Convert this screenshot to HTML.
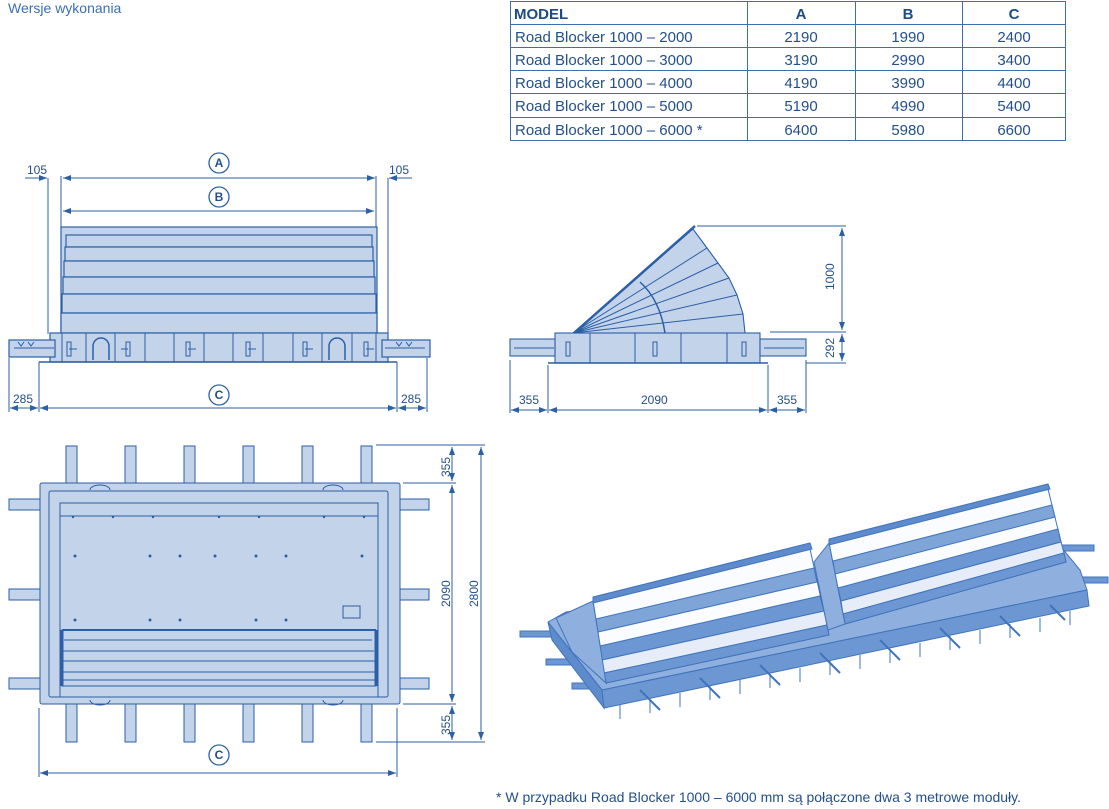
<!DOCTYPE html>
<html><head><meta charset="utf-8"><style>
body{margin:0;background:#fff;width:1109px;height:809px;overflow:hidden;font-family:"Liberation Sans",sans-serif}
svg{position:absolute;left:0;top:0}
text{font-family:"Liberation Sans",sans-serif;fill:#234f8c}
</style></head><body>
<svg width="1109" height="809" viewBox="0 0 1109 809" xmlns="http://www.w3.org/2000/svg">
<defs>
<marker id="ar" markerWidth="8" markerHeight="6" refX="8" refY="3" orient="auto-start-reverse" markerUnits="userSpaceOnUse"><path d="M0,0 L8,3 L0,6 z" fill="#2b5fa6"/></marker>
</defs>
<text x="8" y="13" font-size="14" style="fill:#3a6fb5">Wersje wykonania</text>

<!-- TABLE -->
<g stroke="#3d6fb0" stroke-width="1" fill="none">
<rect x="510.5" y="1.5" width="555" height="139"/>
<line x1="510" y1="24.5" x2="1066" y2="24.5"/><line x1="510" y1="47.5" x2="1066" y2="47.5"/>
<line x1="510" y1="70.5" x2="1066" y2="70.5"/><line x1="510" y1="93.5" x2="1066" y2="93.5"/>
<line x1="510" y1="117.5" x2="1066" y2="117.5"/>
<line x1="747.5" y1="1" x2="747.5" y2="141"/><line x1="855.5" y1="1" x2="855.5" y2="141"/><line x1="962.5" y1="1" x2="962.5" y2="141"/>
</g>
<g font-size="15">
<text x="514" y="19" font-weight="bold" style="fill:#1d4a8a">MODEL</text>
<text x="801" y="19" font-weight="bold" text-anchor="middle" style="fill:#1d4a8a">A</text>
<text x="908" y="19" font-weight="bold" text-anchor="middle" style="fill:#1d4a8a">B</text>
<text x="1014" y="19" font-weight="bold" text-anchor="middle" style="fill:#1d4a8a">C</text>
<text x="515" y="42">Road Blocker 1000 – 2000</text><text x="801" y="42" text-anchor="middle">2190</text><text x="908" y="42" text-anchor="middle">1990</text><text x="1014" y="42" text-anchor="middle">2400</text>
<text x="515" y="65">Road Blocker 1000 – 3000</text><text x="801" y="65" text-anchor="middle">3190</text><text x="908" y="65" text-anchor="middle">2990</text><text x="1014" y="65" text-anchor="middle">3400</text>
<text x="515" y="88">Road Blocker 1000 – 4000</text><text x="801" y="88" text-anchor="middle">4190</text><text x="908" y="88" text-anchor="middle">3990</text><text x="1014" y="88" text-anchor="middle">4400</text>
<text x="515" y="111">Road Blocker 1000 – 5000</text><text x="801" y="111" text-anchor="middle">5190</text><text x="908" y="111" text-anchor="middle">4990</text><text x="1014" y="111" text-anchor="middle">5400</text>
<text x="515" y="135">Road Blocker 1000 – 6000 *</text><text x="801" y="135" text-anchor="middle">6400</text><text x="908" y="135" text-anchor="middle">5980</text><text x="1014" y="135" text-anchor="middle">6600</text>
</g>

<!-- FRONT VIEW -->
<g stroke="#2b5fa6" stroke-width="1" fill="none">
<line x1="48" y1="178" x2="48" y2="334"/><line x1="61" y1="176" x2="61" y2="228"/>
<line x1="376" y1="176" x2="376" y2="228"/><line x1="388" y1="178" x2="388" y2="334"/>
<line x1="63" y1="178" x2="375" y2="178" marker-start="url(#ar)" marker-end="url(#ar)"/>
<line x1="25" y1="178" x2="47" y2="178" marker-end="url(#ar)"/>
<line x1="412" y1="178" x2="389" y2="178" marker-end="url(#ar)"/>
<line x1="63" y1="211" x2="374" y2="211" marker-start="url(#ar)" marker-end="url(#ar)"/>
<circle cx="219" cy="163" r="10" stroke-width="1.3"/><circle cx="219" cy="197" r="10" stroke-width="1.3"/><circle cx="219" cy="395" r="10" stroke-width="1.3"/>
<line x1="9" y1="358" x2="9" y2="412"/><line x1="39" y1="362" x2="39" y2="412"/>
<line x1="397" y1="362" x2="397" y2="412"/><line x1="427" y1="358" x2="427" y2="412"/>
<line x1="10" y1="408" x2="38" y2="408" marker-start="url(#ar)" marker-end="url(#ar)"/>
<line x1="40" y1="408" x2="396" y2="408" marker-start="url(#ar)" marker-end="url(#ar)"/>
<line x1="398" y1="408" x2="426" y2="408" marker-start="url(#ar)" marker-end="url(#ar)"/>
</g>
<g font-size="12"><text x="27" y="174">105</text><text x="389" y="174">105</text>
<text x="13" y="403">285</text><text x="401" y="403">285</text></g>
<g font-size="12" font-weight="bold" text-anchor="middle"><text x="219" y="167">A</text><text x="219" y="201">B</text><text x="219" y="399">C</text></g>
<g stroke="#2b5fa6" fill="#c3d3ea" stroke-width="1.2">
<rect x="61" y="227" width="316" height="106"/>
<rect x="66" y="235" width="306" height="12"/><rect x="65" y="247" width="308" height="14"/>
<rect x="64" y="261" width="310" height="16"/><rect x="63" y="277" width="312" height="17"/>
<rect x="62" y="294" width="314" height="19"/><rect x="61" y="313" width="316" height="20"/>
<rect x="50" y="333" width="338" height="29"/>
<rect x="9" y="340" width="46" height="17"/><rect x="382" y="340" width="48" height="17"/>
<line x1="39" y1="362" x2="397" y2="362" stroke-width="1.5"/>
</g>
<g stroke="#2b5fa6" stroke-width="1" fill="none">
<path d="M62 333V362M86 333V362M115 333V362M145 333V362M174 333V362M204 333V362M233 333V362M263 333V362M293 333V362M322 333V362M352 333V362M376 333V362"/>
<path d="M93 360V346a8 8 0 0 1 16 0V360M329 360V346a8 8 0 0 1 16 0V360" stroke-width="1.5"/>
<path d="M67 342h4v14h-4zM126 342h4v14h-4zM186 342h4v14h-4zM246 342h4v14h-4zM303 342h4v14h-4zM364 342h4v14h-4z"/>
<path d="M69 349h8M128 349h-7M188 349h8M248 349h8M305 349h8M366 349h8"/>
<path d="M14 348h40M385 348h40M18 342l3 4 3-4M28 342l3 4 3-4M396 342l3 4 3-4M406 342l3 4 3-4"/>
</g>

<!-- SIDE VIEW -->
<g stroke="#2b5fa6" stroke-width="1.1" fill="#c3d3ea">
<path d="M573 333 L693 229 L707 248 L718 263 L729 278 L737 295 L743 314 L745 333 Z"/>
<rect x="555" y="333" width="205" height="30"/>
<rect x="510" y="339" width="45" height="17"/><rect x="760" y="339" width="46" height="17"/>
</g>
<g stroke="#2b5fa6" stroke-width="1" fill="none">
<path d="M573 333L707 248M573 333L718 263M573 333L729 278M573 333L737 295M573 333L743 314"/>
<path d="M574 333L695 226" stroke-width="2.5"/>
<path d="M665 333 Q660 300 640 282" stroke-width="1.5"/>
<path d="M590 333V363M635 333V363M681 333V363M727 333V363"/>
<path d="M548 363H768" stroke-width="1.5"/>
<path d="M566 342h4v14h-4zM653 342h4v14h-4zM742 342h4v14h-4z"/>
<path d="M514 348h40M764 348h40"/>
<line x1="697" y1="226" x2="846" y2="226"/><line x1="770" y1="332" x2="846" y2="332"/><line x1="806" y1="363" x2="846" y2="363"/>
<line x1="842" y1="228" x2="842" y2="330" marker-start="url(#ar)" marker-end="url(#ar)"/>
<line x1="842" y1="334" x2="842" y2="361" marker-start="url(#ar)" marker-end="url(#ar)"/>
<path d="M510 360V413M548 365V413M768 365V413M806 360V413"/>
<line x1="511" y1="410" x2="547" y2="410" marker-start="url(#ar)" marker-end="url(#ar)"/>
<line x1="549" y1="410" x2="767" y2="410" marker-start="url(#ar)" marker-end="url(#ar)"/>
<line x1="769" y1="410" x2="805" y2="410" marker-start="url(#ar)" marker-end="url(#ar)"/>
</g>
<g font-size="12"><text x="519" y="404">355</text><text x="641" y="404">2090</text><text x="777" y="404">355</text>
<text transform="translate(834,290) rotate(-90)">1000</text><text transform="translate(834,358) rotate(-90)">292</text></g>

<!-- TOP VIEW -->
<g stroke="#2b5fa6" stroke-width="1" fill="#c3d3ea">
<path d="M66 446h11v37h-11zM125 446h11v37h-11zM184 446h11v37h-11zM243 446h11v37h-11zM302 446h11v37h-11zM361 446h11v37h-11z"/>
<path d="M66 704h11v38h-11zM125 704h11v38h-11zM184 704h11v38h-11zM243 704h11v38h-11zM302 704h11v38h-11zM361 704h11v38h-11z"/>
<path d="M9 499h38v11h-38zM9 589h38v11h-38zM9 678h38v11h-38zM391 499h38v11h-38zM391 589h38v11h-38zM391 678h38v11h-38z"/>
<rect x="40" y="483" width="360" height="221" rx="2"/>
<rect x="49" y="491" width="339" height="206" rx="2"/>
<rect x="60" y="503" width="318" height="194"/>
<rect x="60" y="503" width="318" height="13"/>
<rect x="62" y="630" width="314" height="56"/>
</g>
<g stroke="#2b5fa6" fill="none" stroke-width="1">
<path d="M62 630H376" stroke-width="2"/><path d="M64 640H372M63 651H374M63 661H375M62 672H376M62 680H376" />
<path d="M62 630V686M376 630V686" stroke-width="3"/>
<rect x="343" y="606" width="17" height="12"/>
<path d="M90 490a10 5 0 0 1 20 0M323 490a10 5 0 0 1 20 0M90 700a10 5 0 0 0 20 0M323 700a10 5 0 0 0 20 0"/>
<line x1="376" y1="445" x2="485" y2="445"/><line x1="403" y1="483" x2="456" y2="483"/>
<line x1="403" y1="704" x2="456" y2="704"/><line x1="376" y1="742" x2="485" y2="742"/>
<line x1="452" y1="447" x2="452" y2="481" marker-start="url(#ar)" marker-end="url(#ar)"/>
<line x1="452" y1="485" x2="452" y2="702" marker-start="url(#ar)" marker-end="url(#ar)"/>
<line x1="452" y1="706" x2="452" y2="740" marker-start="url(#ar)" marker-end="url(#ar)"/>
<line x1="481" y1="447" x2="481" y2="740" marker-start="url(#ar)" marker-end="url(#ar)"/>
<path d="M39 708V777M397 708V777"/>
<line x1="40" y1="773" x2="396" y2="773" marker-start="url(#ar)" marker-end="url(#ar)"/>
<circle cx="219" cy="755" r="10" stroke-width="1.3"/>
</g>
<g fill="#2b5fa6">
<circle cx="75" cy="556" r="1.5"/><circle cx="150" cy="556" r="1.5"/><circle cx="180" cy="556" r="1.5"/><circle cx="215" cy="556" r="1.5"/><circle cx="256" cy="556" r="1.5"/><circle cx="286" cy="556" r="1.5"/><circle cx="362" cy="556" r="1.5"/>
<circle cx="75" cy="620" r="1.5"/><circle cx="150" cy="620" r="1.5"/><circle cx="180" cy="620" r="1.5"/><circle cx="256" cy="620" r="1.5"/><circle cx="286" cy="620" r="1.5"/>
<circle cx="73" cy="517" r="1.2"/><circle cx="113" cy="517" r="1.2"/><circle cx="153" cy="517" r="1.2"/><circle cx="219" cy="517" r="1.2"/><circle cx="259" cy="517" r="1.2"/><circle cx="324" cy="517" r="1.2"/><circle cx="364" cy="517" r="1.2"/>
</g>
<g font-size="12"><text transform="translate(450,477) rotate(-90)">355</text><text transform="translate(450,607) rotate(-90)">2090</text>
<text transform="translate(478,607) rotate(-90)">2800</text><text transform="translate(450,735) rotate(-90)">355</text></g>
<text x="219" y="759" font-size="12" font-weight="bold" text-anchor="middle">C</text>

<!-- ISOMETRIC -->
<g stroke="#3f74bd" stroke-width="1">
<!-- arms -->
<path d="M520 631h40v6h-40zM546 659h40v6h-40zM572 683h40v6h-40zM1062 545h32v6h-32zM1075 577h33v6h-33z" fill="#6d97d2"/>
<!-- base top surface -->
<path d="M548 622 L566 612 L1062 548 L1080 570 L1087 590 L602 690 Z" fill="#8fb0de"/>
<!-- base left end -->
<path d="M548 622 L602 690 L604 708 L552 640 Z" fill="#5d8bcc"/>
<!-- base front face -->
<path d="M602 690 L1087 590 L1089 606 L604 708 Z" fill="#6d97d2"/>
<!-- module 1 -->
<path d="M593 601 L810 549 L829 635 L606 683 Z" fill="#fafcff"/>
<path d="M596 619 L814 568 L817 582 L598 632 Z" fill="#7ea4d8"/>
<path d="M600 646 L820 596 L824 611 L602 660 Z" fill="#6d97d2"/>
<path d="M602 660 L824 611 L827 625 L604 673 Z" fill="#e6edf8"/>
<path d="M604 673 L827 625 L829 635 L606 683 Z" fill="#6d97d2"/>
<path d="M593 601 L606 683 L572 652 L556 618 Z" fill="#8fb0de"/>
<path d="M593 597 L810 543 L812 549 L593 603 Z" fill="#5d8bcc"/>
<!-- module 2 -->
<path d="M829 543 L1048 489 L1066 562 L845 624 Z" fill="#fafcff"/>
<path d="M833 561 L1052 505 L1055 517 L835 574 Z" fill="#7ea4d8"/>
<path d="M838 588 L1058 529 L1061 542 L841 601 Z" fill="#6d97d2"/>
<path d="M841 601 L1061 542 L1064 553 L843 614 Z" fill="#e6edf8"/>
<path d="M843 614 L1064 553 L1066 562 L845 624 Z" fill="#6d97d2"/>
<path d="M829 543 L845 624 L828 630 L814 562 Z" fill="#8fb0de"/>
<path d="M829 539 L1048 484 L1050 489 L829 545 Z" fill="#5d8bcc"/>
</g>
<g stroke="#3f74bd" stroke-width="1" fill="none">
<path d="M620 705v14M650 699v14M680 693v14M710 686v14M740 680v14M770 674v14M800 668v14M830 661v14M860 655v14M890 649v14M920 643v14M950 636v14M980 630v14M1010 624v14M1040 618v14M1070 611v14"/>
<path d="M640 690l20 20M700 678l20 20M760 665l20 20M820 653l20 20M880 640l20 20M940 628l20 20M1000 616l20 20M1050 605l15 15" stroke-width="2"/>
</g>

<text x="496" y="802" font-size="14">* W przypadku Road Blocker 1000 – 6000 mm są połączone dwa 3 metrowe moduły.</text>
</svg>
</body></html>
